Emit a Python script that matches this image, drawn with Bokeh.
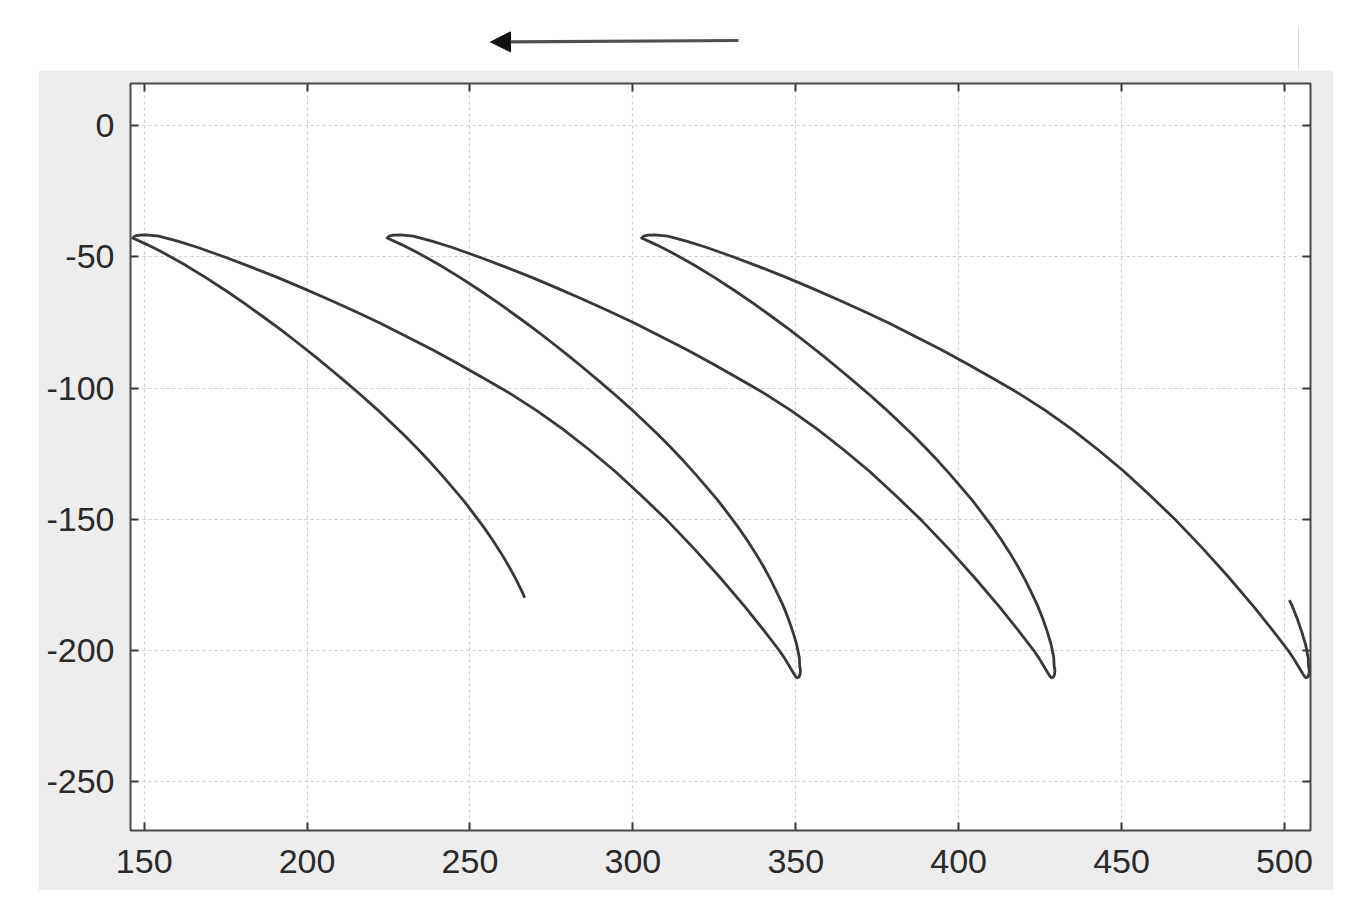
from bokeh.plotting import figure
from bokeh.models import Range1d, FixedTicker, LinearAxis, Arrow, NormalHead, Spacer
from bokeh.layouts import column, row
from bokeh.embed import file_html
from bokeh.resources import INLINE

# ---------------- data ----------------
x_ticks = [150, 200, 250, 300, 350, 400, 450, 500]
y_ticks = [0, -50, -100, -150, -200, -250]

# short piece at the right edge (start of the path) and the bottom turn near x=507
tail_x = [501.5, 502.3, 503.9, 505.3, 506.5, 507.3, 507.4, 507.65, 507.55, 507.2]
tail_y = [-180.8, -182.8, -187.8, -192.8, -197.8, -202.8, -205.8, -207.4, -209.0, -210.1]

# third loop: long branch from the bottom near x=507 up to the top cusp near x=303
u3_x = [506.6, 506.1, 505.4, 504.2, 502.7, 501.1, 496.7, 490.7, 482.7, 474.7, 466.7, 458.7,
        450.7, 442.7, 434.7, 426.7, 418.7, 410.7, 402.7, 394.7, 386.7, 378.7, 370.7, 362.7,
        354.7, 346.7, 338.7, 331.1, 322.7, 316.7, 310.7, 306.7, 304.7, 303.3, 302.7]
u3_y = [-210.4, -209.8, -208.4, -205.9, -202.8, -199.9, -192.8, -183.5, -171.8, -160.8, -150.4,
        -140.8, -131.7, -123.4, -115.6, -108.6, -102.2, -96.4, -90.8, -85.4, -80.3, -75.3, -70.6,
        -66.1, -61.8, -57.6, -53.7, -50.1, -46.4, -44.1, -42.1, -41.6, -41.7, -42.1, -42.8]

# third loop: short branch from the cusp near x=303 down to the bottom near x=428
l3_x = [307.1, 311.2, 318.4, 325.0, 331.2, 337.1, 342.7, 348.2, 353.4, 358.5, 363.4, 368.2,
        372.9, 377.4, 381.7, 385.9, 389.9, 393.7, 397.3, 400.8, 404.2, 407.3, 410.3, 413.1,
        415.7, 418.1, 420.3, 422.3, 424.2, 425.8, 427.2, 428.4, 429.2, 429.3, 429.55, 429.45, 429.1]
l3_y = [-45.3, -47.8, -52.8, -57.8, -62.8, -67.8, -72.8, -77.8, -82.8, -87.8, -92.8, -97.8,
        -102.8, -107.8, -112.8, -117.8, -122.8, -127.8, -132.8, -137.8, -142.8, -147.8, -152.8,
        -157.8, -162.8, -167.8, -172.8, -177.8, -182.8, -187.8, -192.8, -197.8, -202.8, -205.8,
        -207.4, -209.0, -210.1]

# second loop: long branch up to the top cusp near x=225
u2_x = [428.5, 428.0, 427.3, 426.1, 424.6, 423.0, 418.6, 412.6, 404.6, 396.6, 388.6, 380.6,
        372.6, 364.6, 356.6, 348.6, 340.6, 332.6, 324.6, 316.6, 308.6, 300.6, 292.6, 284.6,
        276.6, 268.6, 260.6, 253.0, 244.6, 238.6, 232.6, 228.6, 226.6, 225.2, 224.6]
u2_y = [-210.4, -209.8, -208.4, -205.9, -202.8, -199.9, -192.8, -183.5, -171.8, -160.8, -150.4,
        -140.8, -131.7, -123.4, -115.6, -108.6, -102.2, -96.4, -90.8, -85.4, -80.3, -75.3, -70.6,
        -66.1, -61.8, -57.6, -53.7, -50.1, -46.4, -44.1, -42.1, -41.6, -41.7, -42.1, -42.8]

# second loop: short branch down to the bottom near x=350
l2_x = [229.0, 233.1, 240.3, 246.9, 253.1, 259.0, 264.6, 270.1, 275.3, 280.4, 285.3, 290.1,
        294.8, 299.3, 303.6, 307.8, 311.8, 315.6, 319.2, 322.7, 326.1, 329.2, 332.2, 335.0,
        337.6, 340.0, 342.2, 344.2, 346.1, 347.7, 349.1, 350.3, 351.1, 351.2, 351.45, 351.35, 351.0]
l2_y = [-45.3, -47.8, -52.8, -57.8, -62.8, -67.8, -72.8, -77.8, -82.8, -87.8, -92.8, -97.8,
        -102.8, -107.8, -112.8, -117.8, -122.8, -127.8, -132.8, -137.8, -142.8, -147.8, -152.8,
        -157.8, -162.8, -167.8, -172.8, -177.8, -182.8, -187.8, -192.8, -197.8, -202.8, -205.8,
        -207.4, -209.0, -210.1]

# first loop: long branch up to the top cusp near x=147
u1_x = [350.4, 349.9, 349.2, 348.0, 346.5, 344.9, 340.5, 334.5, 326.5, 318.5, 310.5, 302.5,
        294.5, 286.5, 278.5, 270.5, 262.5, 254.5, 246.5, 238.5, 230.5, 222.5, 214.5, 206.5,
        198.5, 190.5, 182.5, 174.9, 166.5, 160.5, 154.5, 150.5, 148.5, 147.1, 146.5]
u1_y = [-210.4, -209.8, -208.4, -205.9, -202.8, -199.9, -192.8, -183.5, -171.8, -160.8, -150.4,
        -140.8, -131.7, -123.4, -115.6, -108.6, -102.2, -96.4, -90.8, -85.4, -80.3, -75.3, -70.6,
        -66.1, -61.8, -57.6, -53.7, -50.1, -46.4, -44.1, -42.1, -41.6, -41.7, -42.1, -42.8]

# first loop: short branch down to the end of the path near (266, -180)
l1_x = [150.9, 155.0, 162.2, 168.8, 175.0, 180.9, 186.5, 192.0, 197.2, 202.3, 207.2, 212.0,
        216.7, 221.2, 225.5, 229.7, 233.7, 237.5, 241.1, 244.6, 248.0, 251.1, 254.1, 256.9,
        259.5, 261.9, 264.1, 266.1, 266.8]
l1_y = [-45.3, -47.8, -52.8, -57.8, -62.8, -67.8, -72.8, -77.8, -82.8, -87.8, -92.8, -97.8,
        -102.8, -107.8, -112.8, -117.8, -122.8, -127.8, -132.8, -137.8, -142.8, -147.8, -152.8,
        -157.8, -162.8, -167.8, -172.8, -177.8, -179.9]

path_x = tail_x + u3_x + l3_x + u2_x + l2_x + u1_x + l1_x
path_y = tail_y + u3_y + l3_y + u2_y + l2_y + u1_y + l1_y

# ---------------- main plot ----------------
FONT = "Liberation Sans"
p = figure(width=1295, height=820,
           x_range=Range1d(145.8, 508.0), y_range=Range1d(-268.6, 16.1),
           output_backend="svg", toolbar_location=None,
           min_border_left=92, min_border_right=23, min_border_top=13, min_border_bottom=60)
p.background_fill_color = "white"
p.border_fill_color = "#ededed"
p.outline_line_color = "#4a4a4a"
p.outline_line_width = 2

p.line(path_x, path_y, line_color="#383838", line_width=2.8, line_join="round")


def style_axis(ax, labels=True):
    ax.axis_line_color = None
    ax.major_tick_in = 8
    ax.major_tick_out = 0
    ax.minor_tick_in = 0
    ax.minor_tick_out = 0
    ax.major_tick_line_color = "#3a3a3a"
    ax.major_tick_line_width = 2
    if labels:
        ax.major_label_text_font = FONT
        ax.major_label_text_font_size = "34px"
        ax.major_label_text_color = "#2a2a2a"
    else:
        ax.major_label_text_font_size = "1px"
        ax.major_label_text_alpha = 0
        ax.major_label_standoff = 0


p.xaxis.ticker = FixedTicker(ticks=x_ticks)
p.yaxis.ticker = FixedTicker(ticks=y_ticks)
style_axis(p.xaxis[0])
style_axis(p.yaxis[0])
p.xaxis.major_label_standoff = 19
p.yaxis.major_label_standoff = 16
p.xaxis.major_label_overrides = {t: str(t) for t in x_ticks}
p.yaxis.major_label_overrides = {t: str(t) for t in y_ticks}

top_axis = LinearAxis(ticker=FixedTicker(ticks=x_ticks))
right_axis = LinearAxis(ticker=FixedTicker(ticks=y_ticks))
style_axis(top_axis, labels=False)
style_axis(right_axis, labels=False)
p.add_layout(top_axis, "above")
p.add_layout(right_axis, "right")

p.xgrid.ticker = FixedTicker(ticks=x_ticks)
p.ygrid.ticker = FixedTicker(ticks=y_ticks)
for g in (p.xgrid[0], p.ygrid[0]):
    g.grid_line_color = "#cdcdcd"
    g.grid_line_dash = "3 3"
    g.grid_line_width = 1.2

# ---------------- top strip with the direction arrow ----------------
top = figure(width=1340, height=70, x_range=Range1d(0, 1340), y_range=Range1d(0, 70),
             output_backend="svg", toolbar_location=None,
             x_axis_location=None, y_axis_location=None, min_border=0)
top.grid.visible = False
top.outline_line_color = None
top.background_fill_color = "white"
top.border_fill_color = "white"
top.add_layout(Arrow(end=NormalHead(size=20, fill_color="#111111", line_color="#111111"),
                     x_start=738, y_start=30, x_end=490, y_end=28.5,
                     line_width=3.2, line_color="#505050"))
top.segment(x0=[1298], y0=[0], x1=[1298], y1=[45], line_color="#dddddd", line_width=1)

layout = column(top, row(Spacer(width=38, height=820), p), spacing=0)

open("out.html", "w").write(file_html(layout, INLINE))
